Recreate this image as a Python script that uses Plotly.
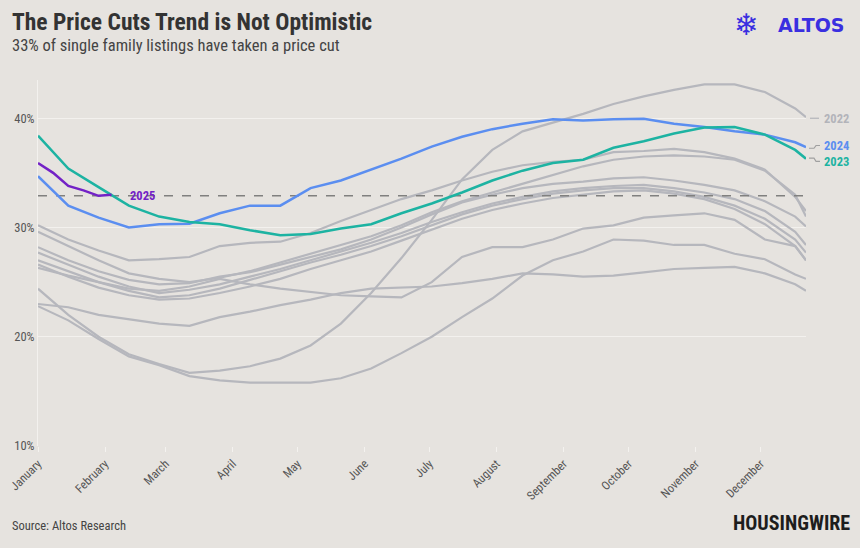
import plotly.graph_objects as go

# ---------------- data ----------------
days = [0, 14, 28, 42, 56, 70, 84, 98, 112, 126, 140, 154, 168, 182, 196, 210,
        224, 238, 252, 266, 280, 294, 308, 322, 336, 350, 355]

month_days = [0, 31, 59, 90, 120, 151, 181, 212, 243, 273, 304, 334]
month_names = ["January", "February", "March", "April", "May", "June", "July",
               "August", "September", "October", "November", "December"]

y_ticks = [10, 20, 30, 40]
y_tick_labels = ["10%", "20%", "30%", "40%"]

y_2022 = [24.4, 22.0, 20.0, 18.4, 17.5, 16.7, 16.9, 17.3, 18.0, 19.2, 21.2, 24.0, 27.2, 30.7,
          34.4, 37.1, 38.8, 39.6, 40.4, 41.3, 42.0, 42.6, 43.1, 43.1, 42.4, 40.9, 40.1]
gray_a = [23.0, 22.7, 22.0, 21.6, 21.2, 21.0, 21.8, 22.3, 22.9, 23.4, 24.0, 24.4, 24.5, 24.6,
          24.9, 25.3, 25.8, 25.7, 25.5, 25.6, 25.9, 26.2, 26.3, 26.4, 25.8, 24.8, 24.2]
gray_b = [22.8, 21.5, 19.8, 18.2, 17.4, 16.4, 16.0, 15.8, 15.8, 15.8, 16.2, 17.1, 18.5, 20.0,
          21.8, 23.5, 25.6, 27.0, 27.8, 28.9, 28.8, 28.4, 28.4, 27.6, 27.1, 25.7, 25.3]
gray_c = [26.3, 25.6, 25.0, 24.4, 24.2, 24.6, 25.3, 24.8, 24.4, 24.1, 23.8, 23.7, 23.6, 25.0,
          27.3, 28.2, 28.2, 28.9, 29.9, 30.2, 30.9, 31.1, 31.3, 30.7, 28.9, 28.3, 27.0]
gray_u1 = [30.2, 28.9, 27.9, 27.0, 27.1, 27.3, 28.3, 28.6, 28.7, 29.5, 30.6, 31.6, 32.6, 33.4,
           34.3, 35.1, 35.7, 36.0, 36.2, 36.9, 37.0, 37.2, 36.9, 36.3, 35.3, 32.8, 31.5]
gray_u2 = [29.6, 28.3, 27.0, 25.8, 25.3, 25.0, 25.4, 26.0, 26.8, 27.6, 28.4, 29.2, 30.2, 31.4,
           32.4, 33.2, 34.0, 34.8, 35.6, 36.2, 36.5, 36.6, 36.5, 36.2, 35.2, 33.0, 31.0]
gray_m1 = [28.2, 27.0, 26.0, 25.2, 24.8, 24.9, 25.5, 25.9, 26.6, 27.3, 28.0, 28.9, 30.0, 31.2,
           32.3, 33.0, 33.6, 34.0, 34.2, 34.5, 34.6, 34.3, 33.9, 33.4, 32.4, 31.0, 30.1]
gray_m2 = [27.7, 26.6, 25.5, 24.6, 24.0, 24.3, 24.8, 25.5, 26.2, 27.0, 27.8, 28.6, 29.5, 30.5,
           31.4, 32.2, 32.8, 33.3, 33.6, 33.8, 33.9, 33.6, 33.2, 32.6, 31.5, 29.6, 28.4]
gray_m3 = [27.0, 26.0, 25.0, 24.2, 23.6, 23.8, 24.4, 25.2, 26.0, 26.8, 27.5, 28.3, 29.2, 30.2,
           31.2, 32.0, 32.6, 33.1, 33.4, 33.6, 33.6, 33.3, 32.8, 32.0, 30.8, 28.9, 27.7]
gray_m4 = [26.6, 25.5, 24.5, 23.8, 23.4, 23.5, 24.0, 24.6, 25.3, 26.2, 27.0, 27.8, 28.8, 29.8,
           30.8, 31.6, 32.2, 32.7, 33.0, 33.3, 33.4, 33.1, 32.6, 31.7, 30.3, 28.3, 27.0]

y_2023 = [38.4, 35.4, 33.7, 32.0, 31.0, 30.5, 30.3, 29.75, 29.3, 29.4, 29.9, 30.3, 31.3, 32.2,
          33.2, 34.3, 35.2, 35.9, 36.2, 37.3, 37.9, 38.6, 39.15, 39.2, 38.5, 37.1, 36.3]
y_2024 = [34.7, 32.0, 30.9, 30.0, 30.3, 30.35, 31.3, 32.0, 32.0, 33.6, 34.3, 35.3, 36.3, 37.4,
          38.3, 39.0, 39.5, 39.9, 39.8, 39.9, 39.95, 39.5, 39.2, 38.8, 38.5, 37.8, 37.35]
days_2025 = [0, 7, 14, 21, 28, 34]
y_2025 = [35.9, 35.0, 33.8, 33.4, 32.9, 33.0]

current_share = 32.9

# ---------------- styling ----------------
BG = "#e6e3df"
GRAY = "#b6b7bd"
BLUE = "#5b8ef0"
TEAL = "#1db3a2"
PURPLE = "#7322c6"
FONT = "Roboto Condensed, Liberation Sans Narrow, DejaVu Sans Condensed, Roboto, sans-serif"

fig = go.Figure()

for g in [y_2022, gray_a, gray_b, gray_c, gray_u1, gray_u2, gray_m1, gray_m2, gray_m3, gray_m4]:
    fig.add_trace(go.Scatter(x=days, y=g, mode="lines",
                             line=dict(color=GRAY, width=2.2), hoverinfo="skip", showlegend=False))

fig.add_trace(go.Scatter(x=[0, 355], y=[current_share, current_share], mode="lines",
                         line=dict(color="#80807f", width=1.5, dash="dash"),
                         hoverinfo="skip", showlegend=False))

fig.add_trace(go.Scatter(x=days, y=y_2024, mode="lines", line=dict(color=BLUE, width=2.5),
                         showlegend=False))
fig.add_trace(go.Scatter(x=days, y=y_2023, mode="lines", line=dict(color=TEAL, width=2.5),
                         showlegend=False))
fig.add_trace(go.Scatter(x=days_2025, y=y_2025, mode="lines", line=dict(color=PURPLE, width=2.5),
                         showlegend=False))

# plot area pixel geometry: x 38..806, y 80..446
L, R, T, B = 38, 806, 80, 446
W, H = R - L, B - T


def px(xp):
    return (xp - L) / W


def py(yp):
    return (B - yp) / H


ann = []
ann.append(dict(text="<b>The Price Cuts Trend is Not Optimistic</b>", x=px(10), y=py(22),
                xref="paper", yref="paper", xanchor="left", yanchor="middle", showarrow=False,
                font=dict(family=FONT, size=23.5, color="#333333")))
ann.append(dict(text="33% of single family listings have taken a price cut", x=px(10), y=py(46),
                xref="paper", yref="paper", xanchor="left", yanchor="middle", showarrow=False,
                font=dict(family=FONT, size=16.5, color="#444444")))
ann.append(dict(text="Source: Altos Research", x=px(10), y=py(525),
                xref="paper", yref="paper", xanchor="left", yanchor="middle", showarrow=False,
                font=dict(family=FONT, size=12.5, color="#444444")))
ann.append(dict(text="<b>HOUSINGWIRE</b>", x=px(852), y=py(523),
                xref="paper", yref="paper", xanchor="right", yanchor="middle", showarrow=False,
                font=dict(family=FONT, size=20, color="#1d1d1d")))
ann.append(dict(text="<b>ALTOS</b>", x=px(846), y=py(25),
                xref="paper", yref="paper", xanchor="right", yanchor="middle", showarrow=False,
                font=dict(family="DejaVu Sans, sans-serif", size=19, color="#3a2fe0")))
ann.append(dict(text="❄", x=px(746), y=py(25),
                xref="paper", yref="paper", xanchor="center", yanchor="middle", showarrow=False,
                font=dict(family="DejaVu Sans, sans-serif", size=30, color="#3a2fe0")))
ann.append(dict(text="<b>2025</b>", x=48.5, y=current_share, xref="x", yref="y",
                xanchor="center", yanchor="middle", showarrow=False,
                font=dict(family=FONT, size=12.5, color=PURPLE)))
for label, yv, col in [("2022", 40.0, "#b3b4ba"), ("2024", 37.5, BLUE), ("2023", 36.0, TEAL)]:
    ann.append(dict(text="<b>%s</b>" % label, x=px(822), y=yv, xref="paper", yref="y",
                    xanchor="left", yanchor="middle", showarrow=False,
                    font=dict(family=FONT, size=12.5, color=col)))

shapes = [
    dict(type="line", xref="paper", yref="y", x0=px(810), x1=px(819), y0=40.0, y1=40.0,
         line=dict(color="#b3b4ba", width=1.2)),
    dict(type="path", xref="paper", yref="y",
         path="M %f,%f L %f,%f L %f,%f L %f,%f" % (px(809), 37.25, px(814), 37.25,
                                                   px(816), 37.5, px(820), 37.5),
         line=dict(color="#a0a0a0", width=1.1)),
    dict(type="path", xref="paper", yref="y",
         path="M %f,%f L %f,%f L %f,%f L %f,%f" % (px(809), 36.35, px(814), 36.35,
                                                   px(816), 36.05, px(820), 36.05),
         line=dict(color="#a0a0a0", width=1.1)),
]

fig.update_layout(
    width=860, height=548,
    margin=dict(l=L, r=860 - R, t=T, b=548 - B),
    paper_bgcolor=BG, plot_bgcolor=BG,
    annotations=ann, shapes=shapes,
    xaxis=dict(range=[0, 355], tickvals=month_days, ticktext=month_names, tickangle=-45,
               showgrid=False, zeroline=False, showline=False, automargin=False,
               ticks="outside", ticklen=5, tickcolor="#f4f2ef",
               tickfont=dict(family=FONT, size=12, color="#555555")),
    yaxis=dict(range=[10, 43.5], tickvals=y_ticks, ticktext=y_tick_labels,
               showgrid=True, gridcolor="#f3f1ee", gridwidth=1, zeroline=False,
               showline=True, linecolor="#f3f1ee", linewidth=1, automargin=False,
               tickfont=dict(family=FONT, size=12.5, color="#555555")),
    hovermode=False,
)

fig.write_html("out.html", config={"displayModeBar": False},
               post_script="document.body.style.margin='0';document.body.style.background='%s';" % BG)
